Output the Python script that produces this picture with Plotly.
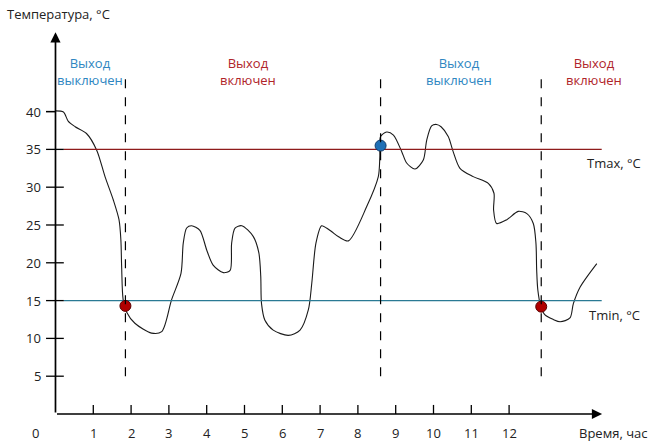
import plotly.graph_objects as go

# ---- data ----
time_h = [0, 0.21, 0.34, 0.52, 0.82, 1.09, 1.31, 1.53, 1.68, 1.73, 1.75, 1.79, 1.88, 2.10, 2.54, 2.81,
          3.07, 3.32, 3.38, 3.47, 3.60, 3.82, 4.0, 4.17, 4.44, 4.62, 4.66, 4.75, 4.93, 5.23, 5.38,
          5.43, 5.45, 5.54, 5.76, 6.16, 6.47, 6.69, 6.78, 6.89, 7.04, 7.17, 7.31, 7.5, 7.75, 8.23,
          8.54, 8.58, 8.60, 8.76, 8.94, 9.16, 9.29, 9.51, 9.73, 9.82, 9.95, 10.08, 10.2, 10.39,
          10.52, 10.70, 11.05, 11.45, 11.60, 11.59, 11.67, 11.94, 12.24, 12.47, 12.64, 12.71,
          12.73, 12.76, 12.84, 12.95, 13.17, 13.35, 13.61, 13.70, 13.88, 14.32]
temp_c = [40.1, 39.95, 38.7, 38.0, 37.1, 34.9, 31.4, 28.3, 25.7, 23.0, 19.5, 15.1, 13.5, 12.0, 10.7, 10.9,
          15.1, 18.6, 22.6, 24.6, 24.9, 24.3, 21.7, 19.7, 18.7, 19.0, 22.6, 24.6, 24.9, 23.5, 21.3,
          18.2, 14.6, 12.4, 11.1, 10.4, 11.1, 13.8, 17.3, 22.6, 24.9, 24.6, 24.1, 23.4, 22.9, 27.4,
          31.4, 34.0, 36.7, 37.3, 36.9, 34.7, 33.2, 32.4, 33.6, 36.2, 38.1, 38.3, 38.0, 36.7,
          34.7, 32.5, 31.4, 30.5, 29.2, 27.0, 25.2, 25.7, 26.8, 26.5, 25.2, 22.6,
          19.0, 16.4, 14.2, 13.1, 12.5, 12.2, 12.7, 14.6, 16.8, 19.9]

t_max = 35
t_min = 15
switch_times = [1.85, 8.6, 12.85]
switch_temps = [14.3, 35.5, 14.2]
switch_colors = ["#B00000", "#1F6FB5", "#B00000"]
switch_edges = ["#5A0000", "#0E3A6B", "#5A0000"]

x_ticks = [1, 2, 3, 4, 5, 6, 7, 8, 9, 10, 11, 12]
y_ticks = [5, 10, 15, 20, 25, 30, 35, 40]

state_labels = ["Выход<br>выключен", "Выход<br>включен", "Выход<br>выключен", "Выход<br>включен"]
state_x = [0.91, 5.09, 10.67, 14.25]
state_colors = ["#2E86C1", "#B0242A", "#2E86C1", "#B0242A"]

FONT = "Open Sans"
fig = go.Figure()

# temperature curve
fig.add_trace(go.Scatter(x=time_h, y=temp_c, mode="lines",
                         line=dict(color="#1a1a1a", width=1.1, shape="spline", smoothing=0.8),
                         hoverinfo="skip"))

# thresholds
fig.add_trace(go.Scatter(x=[0.22, 14.45], y=[t_max, t_max], mode="lines",
                         line=dict(color="#8E1B1B", width=1.3), hoverinfo="skip"))
fig.add_trace(go.Scatter(x=[0.22, 14.45], y=[t_min, t_min], mode="lines",
                         line=dict(color="#2A7A94", width=1.3), hoverinfo="skip"))

shapes = []
# dashed switch lines
for t in switch_times:
    shapes.append(dict(type="line", x0=t, x1=t, y0=5, y1=45, xref="x", yref="y",
                       line=dict(color="black", width=1.2, dash="dash")))
# ticks
for t in x_ticks:
    shapes.append(dict(type="line", x0=t, x1=t, y0=0, y1=1.2, xref="x", yref="y",
                       line=dict(color="black", width=1.3)))
for v in y_ticks + [40]:
    shapes.append(dict(type="line", x0=-0.25, x1=0.22 if v != 40 else 0, y0=v, y1=v, xref="x", yref="y",
                       line=dict(color="black", width=1.3)))

# markers
fig.add_trace(go.Scatter(x=switch_times, y=switch_temps, mode="markers",
                         marker=dict(size=11, color=switch_colors,
                                     line=dict(color=switch_edges, width=1)),
                         hoverinfo="skip"))

ann = []
# axes with arrows
ann.append(dict(x=14.46, y=0, ax=0, ay=0, xref="x", yref="y", axref="x", ayref="y",
                showarrow=True, arrowhead=2, arrowsize=1.2, arrowwidth=1.7, arrowcolor="black", text=""))
ann.append(dict(x=0, y=50.5, ax=0, ay=0, xref="x", yref="y", axref="x", ayref="y",
                showarrow=True, arrowhead=2, arrowsize=1.2, arrowwidth=1.7, arrowcolor="black", text=""))

tick_font = dict(family=FONT, size=13, color="#222")
for t in x_ticks:
    ann.append(dict(x=t, y=-2.55, text=str(t), showarrow=False, xanchor="center", yanchor="middle",
                    font=tick_font))
ann.append(dict(x=-0.52, y=-2.55, text="0", showarrow=False, xanchor="center", yanchor="middle",
                font=tick_font))
for v in y_ticks:
    ann.append(dict(x=-0.32, y=v, text=str(v), showarrow=False, xanchor="right", yanchor="middle",
                    font=tick_font))

for lbl, x, c in zip(state_labels, state_x, state_colors):
    ann.append(dict(x=x, y=45.3, text=lbl, showarrow=False, xanchor="center", yanchor="middle",
                    font=dict(family=FONT, size=13, color=c), align="center"))

ann.append(dict(x=14.0, y=33.2, text="Tmax, °C", showarrow=False, xanchor="left", yanchor="middle",
                font=tick_font))
ann.append(dict(x=14.05, y=13.1, text="Tmin, °C", showarrow=False, xanchor="left", yanchor="middle",
                font=tick_font))
ann.append(dict(x=13.8, y=-2.55, text="Время, час", showarrow=False, xanchor="left", yanchor="middle",
                font=tick_font))
ann.append(dict(x=-1.33, y=52.9, text="Температура, °C", showarrow=False, xanchor="left", yanchor="middle",
                font=tick_font))

fig.update_layout(
    width=649, height=443,
    margin=dict(l=0, r=0, t=0, b=0),
    paper_bgcolor="white", plot_bgcolor="white",
    showlegend=False,
    xaxis=dict(range=[-1.468, 15.701], visible=False, fixedrange=True),
    yaxis=dict(range=[-3.836, 54.76], visible=False, fixedrange=True),
    shapes=shapes, annotations=ann,
)

fig.write_html("out.html")
